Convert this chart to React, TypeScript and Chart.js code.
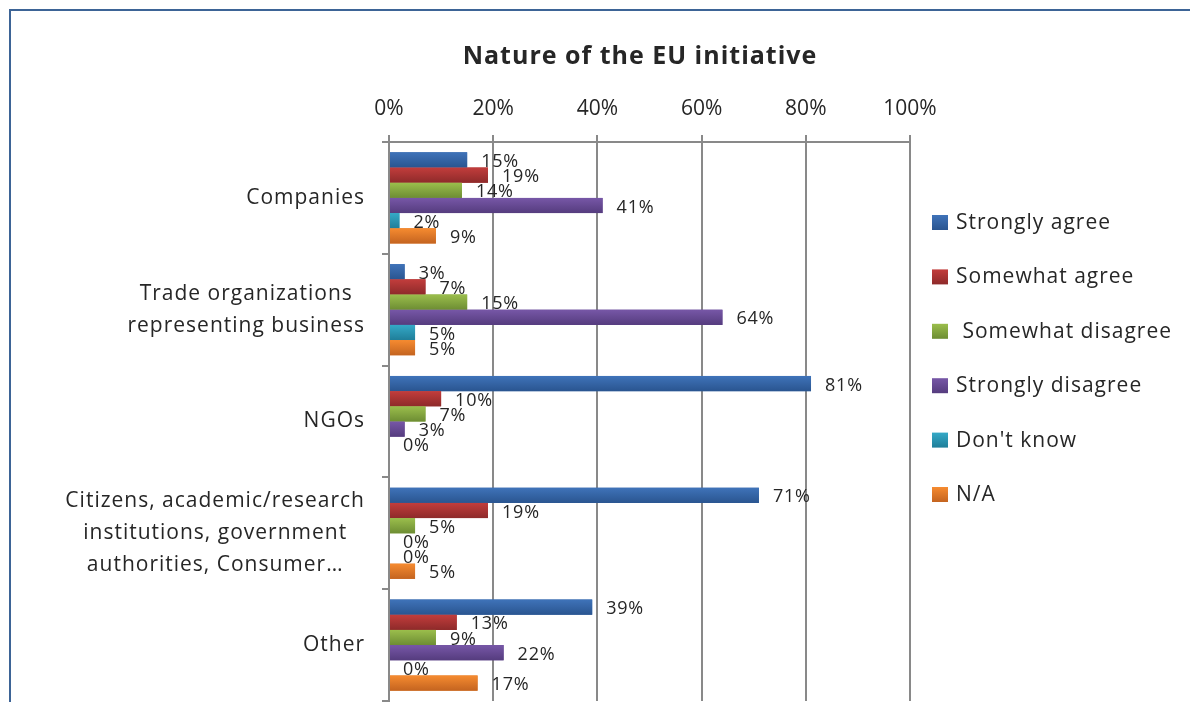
import React, { useEffect, useRef } from "react";
import { Chart, registerables } from "chart.js";

Chart.register(...registerables);

const chartTitle = "Nature of the EU initiative";
const categories: string[][] = [
  ["Companies"],
  ["Trade organizations", "representing business"],
  ["NGOs"],
  ["Citizens, academic/research", "institutions, government", "authorities, Consumer…"],
  ["Other"],
];
const seriesNames = [
  "Strongly agree",
  "Somewhat agree",
  " Somewhat disagree",
  "Strongly disagree",
  "Don't know",
  "N/A",
];
const stronglyAgree = [15, 3, 81, 71, 39];
const somewhatAgree = [19, 7, 10, 19, 13];
const somewhatDisagree = [14, 15, 7, 5, 9];
const stronglyDisagree = [41, 64, 3, 0, 22];
const dontKnow = [2, 5, 0, 0, 0];
const notApplicable: (number | null)[] = [9, 5, null, 5, 17];
const xTickValues = [0, 20, 40, 60, 80, 100];

const seriesValues = [
  stronglyAgree,
  somewhatAgree,
  somewhatDisagree,
  stronglyDisagree,
  dontKnow,
  notApplicable,
];

const colorTop = ["#3f73b9", "#c23d3c", "#9bbe4c", "#7757a7", "#35a9c7", "#f68b30"];
const colorBottom = ["#2a5590", "#8e2a2a", "#6d8d33", "#553c7e", "#1f7e99", "#c46420"];
const colorMid = ["#3464a7", "#a83434", "#86a740", "#664993", "#2a94b1", "#de7828"];

const FONT = "'Open Sans', 'DejaVu Sans', sans-serif";
const TEXT = "#262626";
const GRID = "#898989";

const overlayPlugin = {
  id: "excelLook",
  afterDatasetsDraw(chart: any) {
    const ctx = chart.ctx;
    ctx.save();
    chart.data.datasets.forEach((ds: any, di: number) => {
      const meta = chart.getDatasetMeta(di);
      meta.data.forEach((el: any, j: number) => {
        const v = ds.data[j];
        if (v === null || v === undefined) return;
        const { x, y, base, height } = el.getProps(["x", "y", "base", "height"], true);
        const left = Math.min(base, x);
        const w = Math.abs(x - base);
        if (w <= 0) return;
        const top = y - height / 2;
        const g = ctx.createLinearGradient(0, top, 0, top + height);
        g.addColorStop(0, colorTop[di]);
        g.addColorStop(1, colorBottom[di]);
        ctx.fillStyle = g;
        ctx.fillRect(left, top, w, height);
      });
    });
    ctx.restore();
  },
  afterDraw(chart: any) {
    const ctx = chart.ctx;
    ctx.save();
    // title
    ctx.fillStyle = TEXT;
    ctx.font = `bold 25px ${FONT}`;
    (ctx as any).letterSpacing = "1px";
    ctx.textAlign = "center";
    ctx.textBaseline = "middle";
    ctx.fillText(chartTitle, 640, 57);

    // category labels
    const yScale = chart.scales.y;
    ctx.font = `21px ${FONT}`;
    (ctx as any).letterSpacing = "1px";
    const lh = 32;
    categories.forEach((lines, i) => {
      const yc = yScale.getPixelForValue(i);
      const maxW = Math.max(...lines.map((l) => ctx.measureText(l).width));
      const cx = yScale.right - 24 - maxW / 2;
      const startY = yc - ((lines.length - 1) * lh) / 2;
      lines.forEach((l, k) => ctx.fillText(l, cx, startY + k * lh));
    });

    // data labels
    ctx.font = `18px ${FONT}`;
    (ctx as any).letterSpacing = "0.8px";
    ctx.textAlign = "left";
    chart.data.datasets.forEach((ds: any, di: number) => {
      const meta = chart.getDatasetMeta(di);
      meta.data.forEach((el: any, j: number) => {
        const v = ds.data[j];
        if (v === null || v === undefined) return;
        const { x, y } = el.getProps(["x", "y"], true);
        ctx.fillText(Math.round(v) + "%", x + 14, y + 2);
      });
    });

    // legend
    const lx = chart.chartArea.right + 22;
    const ly0 = 222;
    const step = 54.4;
    ctx.font = `21px ${FONT}`;
    (ctx as any).letterSpacing = "1px";
    seriesNames.forEach((name, i) => {
      const cy = ly0 + i * step;
      const g = ctx.createLinearGradient(0, cy - 7, 0, cy + 8);
      g.addColorStop(0, colorTop[i]);
      g.addColorStop(1, colorBottom[i]);
      ctx.fillStyle = g;
      ctx.fillRect(lx, cy - 7, 16, 15);
      ctx.fillStyle = TEXT;
      ctx.fillText(name, lx + 24, cy + 1);
    });
    (ctx as any).letterSpacing = "0px";
    ctx.restore();
  },
};

export default function App() {
  const ref = useRef<HTMLCanvasElement | null>(null);
  useEffect(() => {
    if (!ref.current) return;
    const chart = new Chart(ref.current, {
      type: "bar",
      data: {
        labels: categories,
        datasets: seriesValues.map((vals, i) => ({
          label: seriesNames[i],
          data: vals,
          backgroundColor: colorMid[i],
          borderWidth: 0,
          categoryPercentage: 0.815,
          barPercentage: 1,
        })),
      },
      options: {
        indexAxis: "y",
        responsive: false,
        animation: false,
        devicePixelRatio: 1,
        layout: { padding: { left: 0, right: 280, top: 0, bottom: 1 } },
        plugins: {
          legend: { display: false },
          title: { display: false },
          tooltip: { enabled: false },
        },
        scales: {
          x: {
            type: "linear",
            position: "top",
            min: 0,
            max: 100,
            afterBuildTicks: (scale: any) => {
              scale.ticks = xTickValues.map((v) => ({ value: v }));
            },
            ticks: {
              callback: (v: any) => v + "%",
              font: { family: FONT, size: 21 },
              color: TEXT,
              padding: 13,
              maxRotation: 0,
            },
            grid: { color: GRID, lineWidth: 2, tickLength: 7 },
            border: { display: true, color: GRID, width: 2 },
            afterFit: (scale: any) => {
              scale.height = 142;
            },
          },
          y: {
            type: "category",
            position: "left",
            offset: true,
            ticks: { display: false },
            grid: {
              offset: true,
              drawOnChartArea: false,
              color: GRID,
              lineWidth: 2,
              tickLength: 7,
            },
            border: { display: true, color: GRID, width: 2 },
            afterFit: (scale: any) => {
              scale.width = 389;
            },
          },
        },
      } as any,
      plugins: [overlayPlugin],
    });
    return () => chart.destroy();
  }, []);

  return (
    <div
      style={{
        position: "absolute",
        left: 0,
        top: 0,
        width: 1190,
        height: 702,
        overflow: "hidden",
        background: "#ffffff",
      }}
    >
      <div
        style={{
          position: "absolute",
          left: 9,
          top: 9,
          width: 1400,
          height: 900,
          border: "2px solid #3d6496",
          boxSizing: "border-box",
        }}
      />
      <canvas
        ref={ref}
        width={1190}
        height={702}
        style={{ position: "absolute", left: 0, top: 0, width: 1190, height: 702 }}
      />
    </div>
  );
}
